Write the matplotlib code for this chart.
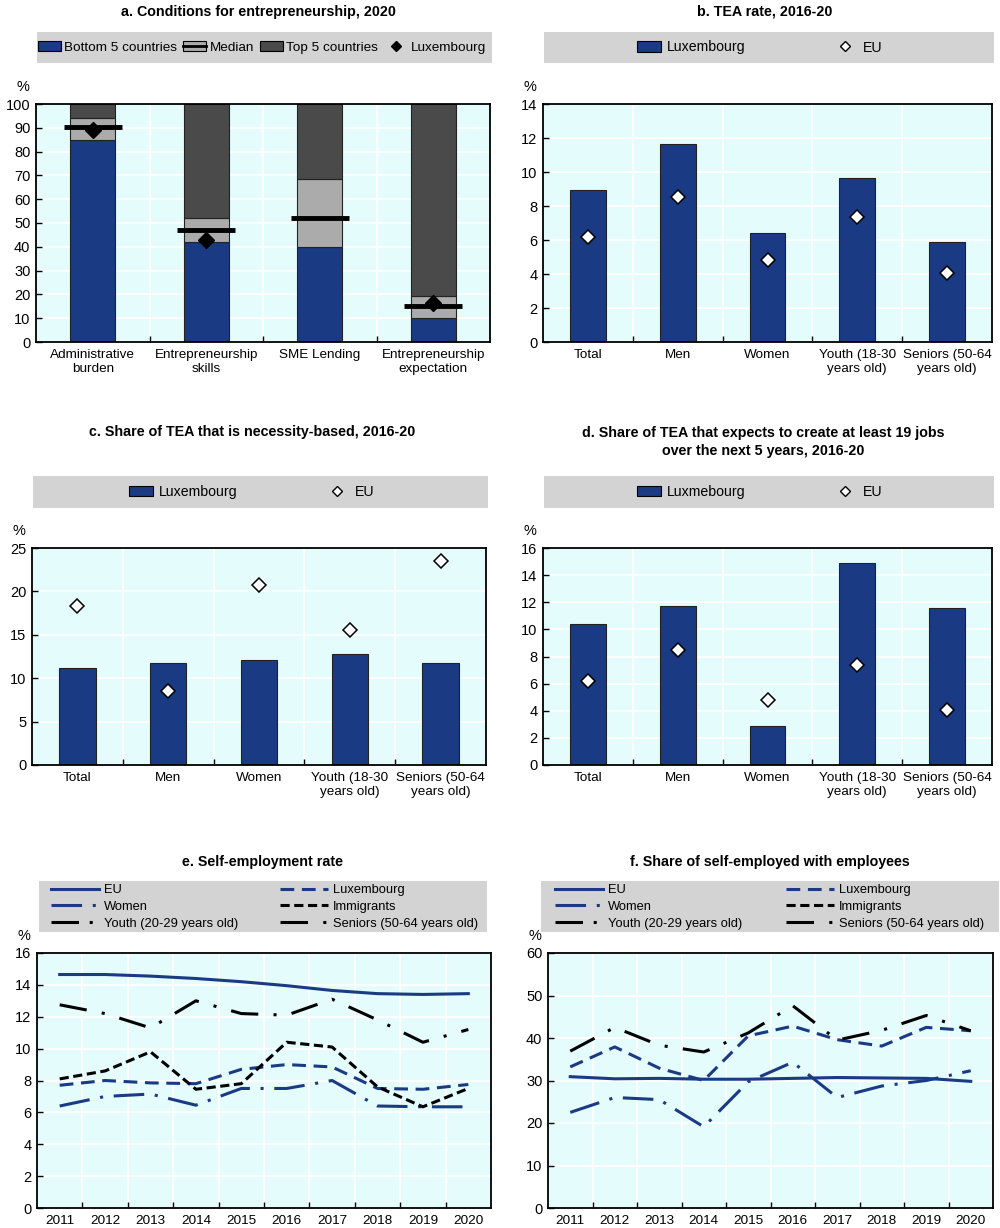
import matplotlib as mpl
mpl.use('Agg')
import matplotlib.pyplot as plt
from matplotlib.lines import Line2D
from matplotlib.patches import Patch, Rectangle
import numpy as np

plt.rcParams['font.family'] = ['Liberation Sans Narrow', 'Liberation Sans', 'DejaVu Sans']
plt.rcParams['font.size'] = 10

BLUE = '#1b3a84'
BG = '#e4fcfc'
LEGBG = '#d3d3d3'
MIDGREY = '#ababab'
DARKGREY = '#4a4a4a'

# ---- data ----
a_cats = ['Administrative\nburden', 'Entrepreneurship\nskills', 'SME Lending', 'Entrepreneurship\nexpectation']
a_bottom5 = [85, 42, 40, 10]
a_band_top = [94, 52, 68.5, 19.5]
a_median = [90.5, 47, 52, 15]
a_lux = [89, 43, np.nan, 16.5]

tea_cats = ['Total', 'Men', 'Women', 'Youth (18-30\nyears old)', 'Seniors (50-64\nyears old)']
b_lux = [8.95, 11.65, 6.4, 9.65, 5.9]
b_eu = [6.2, 8.55, 4.8, 7.35, 4.05]
c_lux = [11.2, 11.7, 12.1, 12.8, 11.7]
c_eu = [18.3, 8.5, 20.7, 15.6, 23.5]
d_lux = [10.4, 11.7, 2.9, 14.9, 11.6]
d_eu = [6.2, 8.5, 4.8, 7.35, 4.05]

years = ['2011', '2012', '2013', '2014', '2015', '2016', '2017', '2018', '2019', '2020']
e_eu = [14.65, 14.65, 14.55, 14.4, 14.2, 13.95, 13.65, 13.45, 13.4, 13.45]
e_lux = [7.7, 8.0, 7.85, 7.8, 8.7, 9.0, 8.85, 7.5, 7.45, 7.75]
e_women = [6.4, 7.0, 7.15, 6.45, 7.5, 7.5, 8.0, 6.4, 6.35, 6.35]
e_immig = [8.1, 8.6, 9.8, 7.45, 7.8, 10.4, 10.1, 7.6, 6.35, 7.5]
e_youth = []
e_seniors = [12.75, 12.2, 11.3, 13.0, 12.2, 12.1, 13.1, 11.8, 10.4, 11.2]

f_eu = [30.9, 30.4, 30.5, 30.3, 30.3, 30.5, 30.7, 30.6, 30.5, 29.8]
f_lux = [33.2, 37.9, 32.9, 30.0, 40.5, 42.8, 39.6, 38.1, 42.5, 41.7]
f_women = [22.5, 26.0, 25.5, 19.1, 29.7, 34.3, 26.0, 28.7, 30.0, 32.3]
f_immig = []
f_youth = []
f_seniors = [36.9, 42.5, 38.3, 36.7, 41.2, 47.6, 39.5, 41.8, 45.3, 41.7]

W, H = 1000, 1228
fig = plt.figure(figsize=(10, 12.28), dpi=100)


def box(x0, y0, x1, y1):
    return [x0 / W, 1 - y1 / H, (x1 - x0) / W, (y1 - y0) / H]


def style(ax, labels, ymax, step):
    n = len(labels)
    ax.set_facecolor(BG)
    ax.set_xlim(-0.5, n - 0.5)
    ax.set_ylim(0, ymax)
    ax.set_yticks(np.arange(0, ymax + step / 2, step))
    ax.set_xticks(range(n))
    ax.set_xticklabels(labels)
    ax.set_xticks(np.arange(0.5, n - 0.5), minor=True)
    ax.tick_params(axis='x', which='major', length=0, pad=5, labelsize=9.7)
    ax.tick_params(axis='x', which='minor', length=4, direction='in', width=1)
    ax.tick_params(axis='y', length=4, direction='in', pad=4, width=1, labelsize=10.5)
    ax.grid(axis='y', color='white', lw=1.3)
    ax.grid(axis='x', which='minor', color='white', lw=1.3)
    ax.set_axisbelow(True)
    for s in ax.spines.values():
        s.set_linewidth(1.3)
    ax.annotate('%', xy=(0, 1), xycoords='axes fraction', xytext=(-5, 7),
                textcoords='offset points', ha='right', va='bottom', fontsize=10.5)


def legbox(x0, y0, x1, y1):
    fig.patches.append(Rectangle((x0 / W, 1 - y1 / H), (x1 - x0) / W, (y1 - y0) / H,
                                 transform=fig.transFigure, fc=LEGBG, ec='none', zorder=0))


def title(x, y, s):
    fig.text(x / W, 1 - y / H, s, ha='center', va='center', fontweight='bold',
             fontsize=10.3, linespacing=1.3)


# ---- panel a ----
ax = fig.add_axes(box(36, 104, 490, 342))
x = np.arange(len(a_cats))
bot = np.array(a_bottom5)
band = np.array(a_band_top)
ax.bar(x, bot, width=0.4, color=BLUE, ec='#222222', lw=0.8)
ax.bar(x, band - bot, bottom=bot, width=0.4, color=MIDGREY, ec='#222222', lw=0.8)
ax.bar(x, 100 - band, bottom=band, width=0.4, color=DARKGREY, ec='#222222', lw=0.8)
ax.plot(x, a_median, ls='none', marker='_', ms=42, mew=3.5, color='black')
ax.plot(x, a_lux, ls='none', marker='D', ms=8, color='black')
style(ax, a_cats, 100, 10)
title(258, 12, 'a. Conditions for entrepreneurship, 2020')
legbox(37, 32, 492, 63)
h = [Patch(fc=BLUE, ec='black', lw=0.8),
     (Patch(fc=MIDGREY, ec='black', lw=0.8), Line2D([], [], color='black', lw=2)),
     Patch(fc=DARKGREY, ec='black', lw=0.8),
     Line2D([], [], ls='none', marker='D', ms=5, color='black')]
fig.legend(h, ['Bottom 5 countries', 'Median', 'Top 5 countries', 'Luxembourg'],
           loc='center', bbox_to_anchor=(262 / W, 1 - 47.5 / H), ncol=4, frameon=False,
           fontsize=9.7, handlelength=1.7, handleheight=0.8, columnspacing=0.45,
           handletextpad=0.25)


# ---- panels b, c, d ----
def tea_panel(rect, lux, eu, ymax, step, lux_label):
    ax = fig.add_axes(rect)
    x = np.arange(len(tea_cats))
    ax.bar(x, lux, width=0.4, color=BLUE, ec='#222222', lw=0.8, label=lux_label)
    ax.plot(x, eu, ls='none', marker='D', ms=7, mfc='white', mec='black', mew=1.1, label='EU')
    style(ax, tea_cats, ymax, step)
    return ax


def tea_legend(cx, cy, lux_label):
    h = [Patch(fc=BLUE, ec='black', lw=0.8),
         Line2D([], [], ls='none', marker='D', ms=5, mfc='white', mec='black', mew=1)]
    fig.legend(h, [lux_label, 'EU'], loc='center', bbox_to_anchor=(cx / W, 1 - cy / H),
               ncol=2, frameon=False, fontsize=10.2, handlelength=1.7, handleheight=0.8,
               columnspacing=6.2, handletextpad=0.4)


tea_panel(box(543, 104, 992, 342), b_lux, b_eu, 14, 2, 'Luxembourg')
title(765, 12, 'b. TEA rate, 2016-20')
legbox(544, 32, 994, 63)
tea_legend(760, 47.5, 'Luxembourg')

tea_panel(box(32, 548, 486, 765), c_lux, c_eu, 25, 5, 'Luxembourg')
title(252, 432, 'c. Share of TEA that is necessity-based, 2016-20')
legbox(33, 476, 488, 508)
tea_legend(252, 492, 'Luxembourg')

tea_panel(box(543, 548, 992, 765), d_lux, d_eu, 16, 2, 'Luxmebourg')
title(763, 442, 'd. Share of TEA that expects to create at least 19 jobs\nover the next 5 years, 2016-20')
legbox(544, 476, 994, 508)
tea_legend(760, 492, 'Luxmebourg')

# ---- panels e, f ----
styles = {
    'EU': dict(color=BLUE, ls='-'),
    'Luxembourg': dict(color=BLUE, ls=(0, (4.5, 2.5))),
    'Women': dict(color=BLUE, ls=(0, (10, 3.5, 1, 3.5))),
    'Immigrants': dict(color='black', ls=(0, (3, 1.5))),
    'Youth (20-29 years old)': dict(color='black', ls=(0, (9, 3.5, 1, 3.5, 1, 3.5))),
    'Seniors (50-64 years old)': dict(color='black', ls=(0, (9, 5, 1, 5))),
}


def line_panel(rect, series, ymax, step):
    ax = fig.add_axes(rect)
    x = np.arange(len(years))
    for name, vals in series.items():
        xs = x[:len(vals)]
        ax.plot(xs, vals, lw=2.2, label=name, **styles[name])
    style(ax, years, ymax, step)
    return ax


def line_legend(x0, y0, x1, y1, hx, colsp):
    legbox(x0, y0, x1, y1)
    order = ['EU', 'Women', 'Youth (20-29 years old)',
             'Luxembourg', 'Immigrants', 'Seniors (50-64 years old)']
    h = [Line2D([], [], lw=2.2, **styles[k]) for k in order]
    fig.legend(h, order, loc='center left', ncol=2, frameon=False, fontsize=9.3,
               bbox_to_anchor=(hx / W, 1 - ((y0 + y1) / 2 + 0.5) / H),
               handlelength=3.7, handletextpad=0.4, labelspacing=0.36, borderaxespad=0,
               borderpad=0.1, columnspacing=colsp)


line_panel(box(37, 953, 491, 1208),
           {'EU': e_eu, 'Luxembourg': e_lux, 'Women': e_women, 'Immigrants': e_immig,
            'Youth (20-29 years old)': e_youth, 'Seniors (50-64 years old)': e_seniors},
           16, 2)
title(263, 862, 'e. Self-employment rate')
line_legend(39, 881, 487, 932, 50, 3.2)

line_panel(box(548, 953, 993, 1208),
           {'EU': f_eu, 'Luxembourg': f_lux, 'Women': f_women, 'Immigrants': f_immig,
            'Youth (20-29 years old)': f_youth, 'Seniors (50-64 years old)': f_seniors},
           60, 10)
title(770, 862, 'f. Share of self-employed with employees')
line_legend(541, 881, 999, 932, 554, 3.4)

fig.savefig('out.png', dpi=100)
